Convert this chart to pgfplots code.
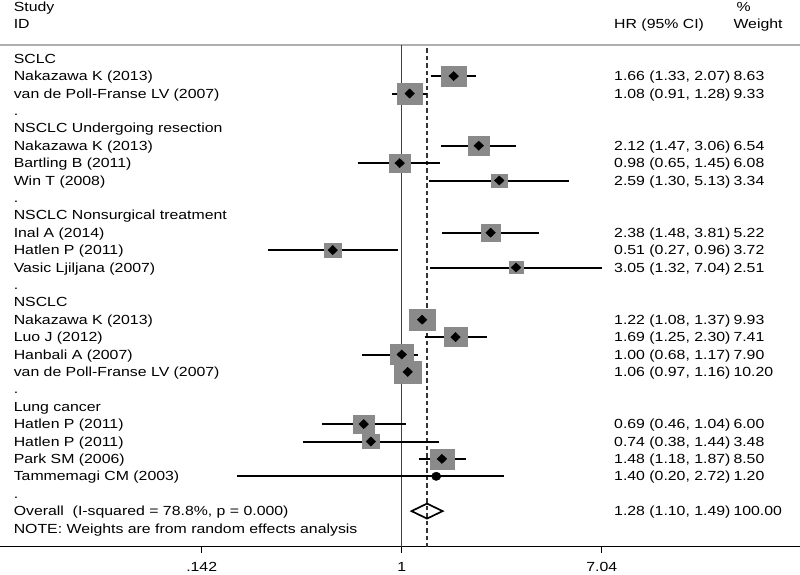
\documentclass[border=0pt]{standalone}
\usepackage{fontspec}
\setmainfont{Liberation Sans}[FakeStretch=1.2]
\usepackage{pgfplots}
\pgfplotsset{compat=1.18}
\usepackage{pgfplotstable}
\definecolor{sqgray}{RGB}{138,138,138}
\definecolor{hdrline}{RGB}{175,175,175}
\definecolor{txt}{RGB}{0,0,0}
\newcommand{\fs}{\fontsize{13.2}{15}\selectfont}

% y = -row, hr, lower, upper, weight
\pgfplotstableread{
y hr lo hi w
-2 1.66 1.33 2.07 8.63
-3 1.08 0.91 1.28 9.33
-6 2.12 1.47 3.06 6.54
-7 0.98 0.65 1.45 6.08
-8 2.59 1.30 5.13 3.34
-11 2.38 1.48 3.81 5.22
-12 0.51 0.27 0.96 3.72
-13 3.05 1.32 7.04 2.51
-16 1.22 1.08 1.37 9.93
-17 1.69 1.25 2.30 7.41
-18 1.00 0.68 1.17 7.90
-19 1.06 0.97 1.16 10.20
-22 0.69 0.46 1.04 6.00
-23 0.74 0.38 1.44 3.48
-24 1.48 1.18 1.87 8.50
}\studies
\pgfplotstableread{
y hr lo hi w
-25 1.40 0.20 2.72 1.20
}\smallw

\newcommand{\ci}[3]{\addplot[black, line width=2pt, forget plot] coordinates {(#1,#3) (#2,#3)};}
\newcommand{\lt}[2]{\node[anchor=base west, inner sep=0pt, yshift=-4.6pt, font=\fs, text=txt] at (axis cs:0.02266,#1) {#2};}
\newcommand{\rt}[3]{\node[anchor=base west, inner sep=0pt, yshift=-4.6pt, font=\fs, text=txt] at (axis cs:7.934,#1) {#2};
\node[anchor=base west, inner sep=0pt, yshift=-4.6pt, font=\fs, text=txt] at (axis cs:25.41,#1) {#3};}

\begin{document}
\begin{tikzpicture}
\useasboundingbox (0,-27.3pt) rectangle (800pt,546.7pt);
\begin{axis}[
  scale only axis, width=800pt, height=546.7pt,
  xmode=log, xmin=0.01985, xmax=48.7,
  ymin=-29.046, ymax=2.374,
  axis x line*=bottom, axis y line=none,
  axis line style={black, line width=1.4pt},
  xtick={0.142,1,7.04}, xticklabels={.142,1,7.04}, minor xtick={},
  ytick=\empty,
  xtick align=outside, major tick length=6pt,
  xtick style={draw=black, line width=1.4pt},
  xticklabel style={font=\fs, text=txt, yshift=-6pt},
  /pgf/number format/assume math mode=true,
  clip=false,
]
% header line and reference lines
\addplot[hdrline, line width=1.5pt, forget plot] coordinates {(0.01985,-0.213) (48.7,-0.213)};
\addplot[black!75, line width=1.4pt, forget plot] coordinates {(1,-0.213) (1,-29.046)};
\addplot[black!80, line width=1.3pt, dash pattern=on 4.5pt off 3pt, forget plot] coordinates {(1.28,-0.40) (1.28,-29.046)};

% weight boxes
\addplot[scatter, only marks, mark=square*, mark options={xscale=1.2},
  scatter/use mapped color={draw=sqgray, fill=sqgray},
  visualization depends on={(6.3*sqrt(\thisrow{w})+2)/2 \as \msz},
  scatter/@pre marker code/.append style={/tikz/mark size=\msz}]
  table[x=hr, y=y] {\studies};

% confidence intervals
\ci{1.33}{2.07}{-2}
\ci{0.91}{1.28}{-3}
\ci{1.47}{3.06}{-6}
\ci{0.65}{1.45}{-7}
\ci{1.30}{5.13}{-8}
\ci{1.48}{3.81}{-11}
\ci{0.27}{0.96}{-12}
\ci{1.32}{7.04}{-13}
\ci{1.08}{1.37}{-16}
\ci{1.25}{2.30}{-17}
\ci{0.68}{1.17}{-18}
\ci{0.97}{1.16}{-19}
\ci{0.46}{1.04}{-22}
\ci{0.38}{1.44}{-23}
\ci{1.18}{1.87}{-24}
\ci{0.20}{2.72}{-25}

% point estimates
\addplot[only marks, mark=diamond*, mark size=4.6pt, mark options={xscale=1.4, black}] table[x=hr, y=y] {\studies};
\addplot[only marks, mark=*, mark size=4.2pt, mark options={xscale=1.1, black}] table[x=hr, y=y] {\smallw};

% overall diamond
\addplot[black, line width=1.7pt, line join=miter] coordinates {(1.10,-27) (1.28,-26.569) (1.49,-27) (1.28,-27.431) (1.10,-27) (1.28,-26.569)};

% left text
\lt{2}{Study}
\lt{1}{ID}
\lt{-1}{SCLC}
\lt{-2}{Nakazawa K (2013)}
\lt{-3}{van de Poll-Franse LV (2007)}
\lt{-4}{.}
\lt{-5}{NSCLC Undergoing resection}
\lt{-6}{Nakazawa K (2013)}
\lt{-7}{Bartling B (2011)}
\lt{-8}{Win T (2008)}
\lt{-9}{.}
\lt{-10}{NSCLC Nonsurgical treatment}
\lt{-11}{Inal A (2014)}
\lt{-12}{Hatlen P (2011)}
\lt{-13}{Vasic Ljiljana (2007)}
\lt{-14}{.}
\lt{-15}{NSCLC}
\lt{-16}{Nakazawa K (2013)}
\lt{-17}{Luo J (2012)}
\lt{-18}{Hanbali A (2007)}
\lt{-19}{van de Poll-Franse LV (2007)}
\lt{-20}{.}
\lt{-21}{Lung cancer}
\lt{-22}{Hatlen P (2011)}
\lt{-23}{Hatlen P (2011)}
\lt{-24}{Park SM (2006)}
\lt{-25}{Tammemagi CM (2003)}
\lt{-26}{.}
\lt{-27}{Overall\ \ (I-squared = 78.8\%, p = 0.000)}
\lt{-28}{NOTE: Weights are from random effects analysis}

% right text
\node[anchor=base west, inner sep=0pt, yshift=-4.6pt, font=\fs, text=txt] at (axis cs:26.2,2) {\%};
\rt{1}{HR (95\% CI)}{Weight}
\rt{-2}{1.66 (1.33, 2.07)}{8.63}
\rt{-3}{1.08 (0.91, 1.28)}{9.33}
\rt{-6}{2.12 (1.47, 3.06)}{6.54}
\rt{-7}{0.98 (0.65, 1.45)}{6.08}
\rt{-8}{2.59 (1.30, 5.13)}{3.34}
\rt{-11}{2.38 (1.48, 3.81)}{5.22}
\rt{-12}{0.51 (0.27, 0.96)}{3.72}
\rt{-13}{3.05 (1.32, 7.04)}{2.51}
\rt{-16}{1.22 (1.08, 1.37)}{9.93}
\rt{-17}{1.69 (1.25, 2.30)}{7.41}
\rt{-18}{1.00 (0.68, 1.17)}{7.90}
\rt{-19}{1.06 (0.97, 1.16)}{10.20}
\rt{-22}{0.69 (0.46, 1.04)}{6.00}
\rt{-23}{0.74 (0.38, 1.44)}{3.48}
\rt{-24}{1.48 (1.18, 1.87)}{8.50}
\rt{-25}{1.40 (0.20, 2.72)}{1.20}
\rt{-27}{1.28 (1.10, 1.49)}{100.00}
\end{axis}
\end{tikzpicture}
\end{document}
